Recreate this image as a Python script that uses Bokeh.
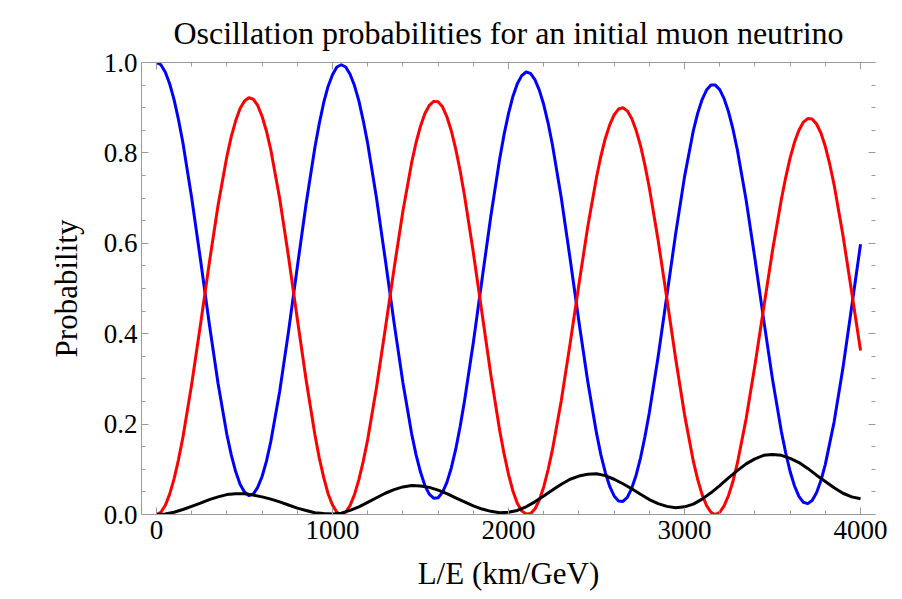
from bokeh.plotting import figure
from bokeh.models import LinearAxis, FixedTicker, PrintfTickFormatter, Range1d, ColumnDataSource
from bokeh.embed import file_html
from bokeh.resources import INLINE

# ---- data ----
# muon-neutrino survival probability (blue)
le_mu = [0, 25, 50, 75, 100, 125, 150, 200, 250, 300,
         350, 400, 425, 450, 475, 500, 525, 550, 575, 600,
         625, 650, 700, 750, 800, 850, 900, 925, 950, 975,
         1000, 1025, 1050, 1075, 1100, 1125, 1150, 1175, 1200, 1250,
         1300, 1350, 1400, 1450, 1475, 1500, 1525, 1550, 1575, 1600,
         1625, 1650, 1675, 1700, 1725, 1750, 1800, 1850, 1900, 1950,
         1975, 2000, 2025, 2050, 2075, 2100, 2125, 2150, 2175, 2200,
         2225, 2250, 2300, 2350, 2400, 2450, 2500, 2525, 2550, 2575,
         2600, 2625, 2650, 2675, 2700, 2725, 2750, 2775, 2800, 2850,
         2900, 2950, 3000, 3050, 3075, 3100, 3125, 3150, 3175, 3200,
         3225, 3250, 3275, 3300, 3350, 3400, 3450, 3500, 3550, 3575,
         3600, 3625, 3650, 3675, 3700, 3725, 3750, 3775, 3800, 3850,
         3900, 3950, 4000]
p_mu = [1.000, 0.995, 0.979, 0.953, 0.918, 0.874, 0.823, 0.701, 0.564, 0.422,
        0.290, 0.177, 0.132, 0.095, 0.067, 0.050, 0.042, 0.045, 0.060, 0.084,
        0.118, 0.162, 0.272, 0.404, 0.547, 0.687, 0.812, 0.865, 0.911, 0.947,
        0.973, 0.990, 0.995, 0.990, 0.974, 0.949, 0.915, 0.871, 0.821, 0.700,
        0.564, 0.424, 0.292, 0.178, 0.132, 0.094, 0.064, 0.045, 0.036, 0.037,
        0.049, 0.071, 0.103, 0.144, 0.194, 0.251, 0.380, 0.521, 0.661, 0.787,
        0.841, 0.887, 0.925, 0.953, 0.971, 0.979, 0.976, 0.962, 0.939, 0.907,
        0.866, 0.817, 0.700, 0.566, 0.427, 0.295, 0.180, 0.132, 0.093, 0.062,
        0.041, 0.030, 0.029, 0.038, 0.058, 0.087, 0.125, 0.172, 0.225, 0.349,
        0.485, 0.622, 0.747, 0.849, 0.888, 0.918, 0.939, 0.950, 0.950, 0.940,
        0.920, 0.891, 0.853, 0.807, 0.696, 0.566, 0.430, 0.299, 0.184, 0.136,
        0.095, 0.063, 0.040, 0.027, 0.024, 0.031, 0.048, 0.075, 0.111, 0.205,
        0.324, 0.460, 0.598]

# muon -> tau probability (red)
le_tau = [0, 25, 50, 75, 100, 125, 150, 200, 250, 300,
          350, 400, 425, 450, 475, 500, 525, 550, 575, 600,
          625, 650, 700, 750, 800, 850, 900, 925, 950, 975,
          1000, 1025, 1050, 1075, 1100, 1125, 1150, 1175, 1200, 1250,
          1300, 1350, 1400, 1450, 1475, 1500, 1525, 1550, 1575, 1600,
          1625, 1650, 1675, 1700, 1725, 1750, 1800, 1850, 1900, 1950,
          1975, 2000, 2025, 2050, 2075, 2100, 2125, 2150, 2175, 2200,
          2225, 2250, 2300, 2350, 2400, 2450, 2500, 2525, 2550, 2575,
          2600, 2625, 2650, 2675, 2700, 2725, 2750, 2775, 2800, 2850,
          2900, 2950, 3000, 3050, 3075, 3100, 3125, 3150, 3175, 3200,
          3225, 3250, 3275, 3300, 3350, 3400, 3450, 3500, 3550, 3575,
          3600, 3625, 3650, 3675, 3700, 3725, 3750, 3775, 3800, 3825,
          3850, 3900, 3950, 4000]
p_tau = [0.000, 0.005, 0.020, 0.045, 0.079, 0.121, 0.170, 0.288, 0.420, 0.556,
         0.684, 0.792, 0.836, 0.871, 0.898, 0.915, 0.922, 0.919, 0.905, 0.881,
         0.848, 0.806, 0.699, 0.571, 0.433, 0.298, 0.177, 0.125, 0.082, 0.046,
         0.021, 0.005, 0.000, 0.005, 0.020, 0.044, 0.077, 0.118, 0.166, 0.281,
         0.411, 0.544, 0.671, 0.779, 0.823, 0.859, 0.887, 0.905, 0.914, 0.913,
         0.902, 0.880, 0.849, 0.809, 0.761, 0.706, 0.580, 0.444, 0.308, 0.186,
         0.134, 0.089, 0.052, 0.025, 0.008, 0.001, 0.002, 0.012, 0.032, 0.061,
         0.099, 0.144, 0.252, 0.378, 0.509, 0.636, 0.746, 0.793, 0.832, 0.862,
         0.884, 0.897, 0.900, 0.893, 0.876, 0.850, 0.816, 0.773, 0.723, 0.607,
         0.477, 0.344, 0.221, 0.118, 0.077, 0.044, 0.020, 0.005, 0.000, 0.005,
         0.019, 0.042, 0.073, 0.113, 0.212, 0.330, 0.458, 0.584, 0.697, 0.746,
         0.789, 0.824, 0.850, 0.868, 0.876, 0.875, 0.864, 0.844, 0.814, 0.775,
         0.729, 0.618, 0.491, 0.363]

# muon -> electron probability (black)
le_e = [0, 50, 100, 150, 200, 250, 300, 350, 400, 450,
        500, 550, 600, 650, 700, 750, 800, 850, 900, 950,
        1000, 1050, 1100, 1150, 1200, 1250, 1300, 1350, 1400, 1450,
        1500, 1550, 1600, 1650, 1700, 1750, 1800, 1850, 1900, 1950,
        2000, 2050, 2100, 2150, 2200, 2250, 2300, 2350, 2400, 2450,
        2500, 2550, 2600, 2650, 2700, 2750, 2800, 2850, 2900, 2950,
        3000, 3050, 3100, 3150, 3200, 3250, 3300, 3350, 3400, 3450,
        3500, 3550, 3600, 3650, 3700, 3750, 3800, 3850, 3900, 3950,
        4000]
p_e = [0.000, 0.001, 0.005, 0.011, 0.018, 0.025, 0.033, 0.039, 0.044, 0.046,
       0.046, 0.043, 0.039, 0.034, 0.028, 0.021, 0.014, 0.009, 0.004, 0.002,
       0.001, 0.003, 0.009, 0.017, 0.027, 0.037, 0.047, 0.055, 0.061, 0.064,
       0.063, 0.060, 0.054, 0.046, 0.037, 0.028, 0.019, 0.012, 0.007, 0.004,
       0.005, 0.009, 0.017, 0.028, 0.041, 0.054, 0.067, 0.078, 0.085, 0.089,
       0.090, 0.086, 0.078, 0.068, 0.057, 0.045, 0.033, 0.024, 0.018, 0.015,
       0.017, 0.023, 0.034, 0.048, 0.064, 0.081, 0.097, 0.112, 0.123, 0.131,
       0.133, 0.131, 0.124, 0.115, 0.102, 0.087, 0.073, 0.059, 0.047, 0.039,
       0.035]

x_ticks = [0, 1000, 2000, 3000, 4000]
x_minor = [200, 400, 600, 800, 1200, 1400, 1600, 1800, 2200, 2400, 2600, 2800,
           3200, 3400, 3600, 3800]
y_ticks = [0.0, 0.2, 0.4, 0.6, 0.8, 1.0]
y_minor = [0.05, 0.1, 0.15, 0.25, 0.3, 0.35, 0.45, 0.5, 0.55, 0.65, 0.7, 0.75,
           0.85, 0.9, 0.95]

title_text = "Oscillation probabilities for an initial muon neutrino"
x_label = "L/E (km/GeV)"
y_label = "Probability"

FONT = "Liberation Serif"
FRAME = "#9a9a9a"

src_mu = ColumnDataSource(dict(x=le_mu, y=p_mu))
src_tau = ColumnDataSource(dict(x=le_tau, y=p_tau))
src_e = ColumnDataSource(dict(x=le_e, y=p_e))

p = figure(width=902, height=599, output_backend="svg", toolbar_location=None,
           x_range=Range1d(-85, 4085), y_range=Range1d(0, 1),
           min_border_left=141, min_border_right=27, min_border_top=62,
           min_border_bottom=85)

p.title.text = title_text
p.title.text_font = FONT
p.title.text_font_size = "32px"
p.title.text_font_style = "normal"
p.title.align = "center"
p.title.text_color = "black"
p.title.standoff = 23

p.grid.visible = False
p.outline_line_color = None
p.background_fill_color = "white"
p.border_fill_color = "white"


def style_axis(ax, ticks, minor, labels=True):
    ax.ticker = FixedTicker(ticks=ticks, minor_ticks=minor)
    ax.axis_line_color = FRAME
    ax.axis_line_width = 1
    ax.major_tick_line_color = FRAME
    ax.minor_tick_line_color = FRAME
    ax.major_tick_in = 7
    ax.major_tick_out = 0
    ax.minor_tick_in = 4
    ax.minor_tick_out = 0
    if labels:
        ax.major_label_text_font = FONT
        ax.major_label_text_font_size = "27px"
        ax.major_label_text_color = "black"
        ax.axis_label_text_font = FONT
        ax.axis_label_text_font_size = "31px"
        ax.axis_label_text_font_style = "normal"
        ax.axis_label_text_color = "black"
    else:
        ax.major_label_text_font_size = "1px"
        ax.major_label_text_color = None
        ax.major_label_standoff = 0


xa = p.xaxis[0]
style_axis(xa, x_ticks, x_minor)
xa.axis_label = x_label
xa.major_label_standoff = 6
xa.axis_label_standoff = 14

ya = p.yaxis[0]
style_axis(ya, y_ticks, y_minor)
ya.axis_label = y_label
ya.formatter = PrintfTickFormatter(format="%.1f")
ya.major_label_standoff = 4
ya.axis_label_standoff = 17

top = LinearAxis()
style_axis(top, x_ticks, x_minor, labels=False)
p.add_layout(top, "above")

right = LinearAxis()
style_axis(right, y_ticks, y_minor, labels=False)
right.axis_line_alpha = 0
p.add_layout(right, "right")

p.line("x", "y", source=src_mu, line_color="#0000ff", line_width=3, line_join="round")
p.line("x", "y", source=src_tau, line_color="#ff0000", line_width=3, line_join="round")
p.line("x", "y", source=src_e, line_color="black", line_width=3, line_join="round")

open("out.html", "w").write(file_html(p, INLINE))
